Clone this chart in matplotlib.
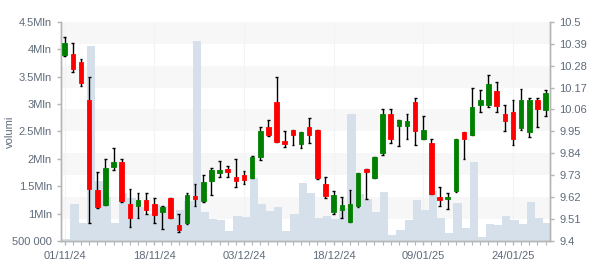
import numpy as np
import matplotlib
matplotlib.use("Agg")
import matplotlib.pyplot as plt
import matplotlib.transforms as mtransforms

plt.rcParams['font.family'] = ['Liberation Sans', 'DejaVu Sans']

# ============================================================
# DATA
# ============================================================
opens = [10.334, 10.338, 10.298, 10.107, 9.656, 9.582, 9.773, 9.796, 9.586, 9.577,
         9.606, 9.586, 9.547, 9.616, 9.480, 9.490, 9.626, 9.602, 9.703, 9.743,
         9.759, 9.721, 9.731, 9.716, 9.821, 9.970, 10.096, 9.902, 9.955, 9.888,
         9.970, 9.957, 9.686, 9.547, 9.557, 9.497, 9.574, 9.759, 9.718, 9.843,
         10.037, 9.978, 9.978, 10.097, 9.913, 9.892, 9.619, 9.612, 9.651, 9.947,
         9.933, 10.084, 10.081, 10.151, 10.037, 10.047, 9.968, 9.948, 10.106, 10.059]
closes = [10.392, 10.263, 10.194, 9.659, 9.571, 9.766, 9.796, 9.602, 9.514, 9.606,
          9.557, 9.532, 9.571, 9.514, 9.454, 9.629, 9.612, 9.696, 9.756, 9.756,
          9.748, 9.703, 9.708, 9.821, 9.952, 9.932, 9.898, 9.887, 9.933, 9.945,
          9.933, 9.714, 9.627, 9.629, 9.579, 9.586, 9.741, 9.748, 9.821, 10.037,
          9.913, 10.005, 10.002, 9.953, 9.955, 9.637, 9.607, 9.621, 9.912, 9.913,
          10.072, 10.107, 10.186, 10.079, 10.004, 9.913, 10.106, 10.106, 10.060, 10.141]
highs = [10.422, 10.392, 10.313, 10.221, 9.744, 9.810, 9.865, 9.810, 9.659, 9.639,
         9.639, 9.616, 9.574, 9.616, 9.534, 9.639, 9.684, 9.729, 9.765, 9.801,
         9.775, 9.810, 9.751, 9.825, 9.970, 10.005, 10.221, 9.950, 9.955, 9.945,
         10.015, 9.957, 9.719, 9.649, 9.619, 9.656, 9.741, 9.759, 9.821, 10.060,
         10.060, 10.005, 10.037, 10.116, 10.025, 9.910, 9.669, 9.639, 9.912, 9.947,
         10.166, 10.159, 10.231, 10.196, 10.081, 10.106, 10.162, 10.116, 10.116, 10.159]
lows = [10.329, 10.249, 10.176, 9.489, 9.567, 9.580, 9.754, 9.594, 9.469, 9.514,
        9.537, 9.489, 9.459, 9.514, 9.444, 9.487, 9.574, 9.594, 9.629, 9.719,
        9.719, 9.669, 9.684, 9.716, 9.808, 9.925, 9.898, 9.870, 9.880, 9.865,
        9.890, 9.709, 9.614, 9.534, 9.514, 9.497, 9.571, 9.612, 9.718, 9.830,
        9.890, 9.875, 9.910, 9.880, 9.910, 9.637, 9.576, 9.559, 9.647, 9.810,
        9.933, 10.045, 10.074, 10.045, 9.953, 9.882, 9.955, 9.920, 9.970, 10.027]
volumes = [545000, 1175000, 830000, 4057000, 1594000, 1310000, 830000, 1375000, 1280000, 1120000,
           1000000, 1150000, 1144000, 914000, 1065000, 1230000, 4148000, 1029000, 901000, 883000,
           682000, 956000, 943000, 1650000, 1175000, 1047000, 1120000, 682000, 992000, 1558000,
           1375000, 925000, 956000, 907000, 1107000, 2816000, 1357000, 1272000, 1029000, 1394000,
           609000, 700000, 883000, 1248000, 1065000, 1410000, 920000, 646000, 1193000, 737000,
           1941000, 573000, 810000, 792000, 956000, 883000, 810000, 1211000, 920000, 828000]

date_labels = ["01/11/24", "18/11/24", "03/12/24", "18/12/24", "09/01/25", "24/01/25"]
date_label_step = 11

vol_ticks = [500000, 1000000, 1500000, 2000000, 2500000, 3000000, 3500000, 4000000, 4500000]
vol_ticklabels = ["500 000", "1Mln", "1.5Mln", "2Mln", "2.5Mln", "3Mln", "3.5Mln", "4Mln", "4.5Mln"]
price_ticks = [9.4, 9.51, 9.62, 9.73, 9.84, 9.95, 10.06, 10.17, 10.28, 10.39, 10.5]
price_ticklabels = ["9.4", "9.51", "9.62", "9.73", "9.84", "9.95", "10.06", "10.17", "10.28", "10.39", "10.5"]

# ============================================================
# STYLE
# ============================================================
UP = "#008000"
DOWN = "#ff0000"
VOL_COLOR = "#d6e0ea"
BAND_COLOR = "#f7f7f7"
AXIS_COLOR = "#b5b5b5"
TEXT_COLOR = "#5f6b7a"

x = np.arange(len(opens))
o = np.array(opens)
c = np.array(closes)

fig = plt.figure(figsize=(6, 2.7), dpi=100)
ax = fig.add_axes([0.1017, 0.1074, 0.815, 0.812])
ax2 = ax.twinx()

ax.set_xlim(-0.45, len(x) - 0.45)
ax.set_ylim(500000, 4500000)
ax2.set_ylim(9.4, 10.5)

# alternating background bands following the price ticks
band_tr = mtransforms.blended_transform_factory(ax.transAxes, ax2.transData)
for i in range(len(price_ticks) - 1):
    if i % 2 == 0:
        lo, hi = price_ticks[-2 - i], price_ticks[-1 - i]
        ax.add_patch(plt.Rectangle((0, lo), 1, hi - lo, transform=band_tr,
                                   color=BAND_COLOR, lw=0, zorder=0))

# faint vertical grid at labelled dates
for k in range(len(date_labels)):
    ax.axvline(k * date_label_step, color="#f3f3f3", lw=0.8, zorder=0.5)

# volume bars
ax.bar(x + 0.2, np.array(volumes) - 500000, bottom=500000, width=1.0,
       color=VOL_COLOR, lw=0, zorder=1)

# candles: wick with caps, then body
ax2.vlines(x, lows, highs, color="black", lw=1.0, zorder=2)
ax2.hlines(highs, x - 0.17, x + 0.17, color="black", lw=1.0, zorder=2)
ax2.hlines(lows, x - 0.17, x + 0.17, color="black", lw=1.0, zorder=2)
colors = [UP if cc >= oo else DOWN for oo, cc in zip(o, c)]
ax2.bar(x, c - o, bottom=o, width=0.56, color=colors, edgecolor=colors, lw=0.6, zorder=3)

# axes styling
ax.set_yticks(vol_ticks)
ax.set_yticklabels(vol_ticklabels)
ax2.set_yticks(price_ticks)
ax2.set_yticklabels(price_ticklabels)
ax.set_xticks([k * date_label_step for k in range(len(date_labels))])
ax.set_xticklabels(date_labels)
ax.set_xticks(x, minor=True)

for a in (ax, ax2):
    a.spines["top"].set_visible(False)
    for s in ("left", "right", "bottom"):
        a.spines[s].set_color(AXIS_COLOR)
        a.spines[s].set_linewidth(1.0)
    a.tick_params(colors=AXIS_COLOR, labelcolor=TEXT_COLOR, labelsize=8, length=3, width=1)
    a.tick_params(which="minor", colors=AXIS_COLOR, length=3, width=0.8)
ax.tick_params(axis="x", pad=4)

ax.set_ylabel("volumi", color=TEXT_COLOR, fontsize=8)
ax.yaxis.set_label_coords(-0.095, 0.5)

fig.savefig("out.png", dpi=100)
